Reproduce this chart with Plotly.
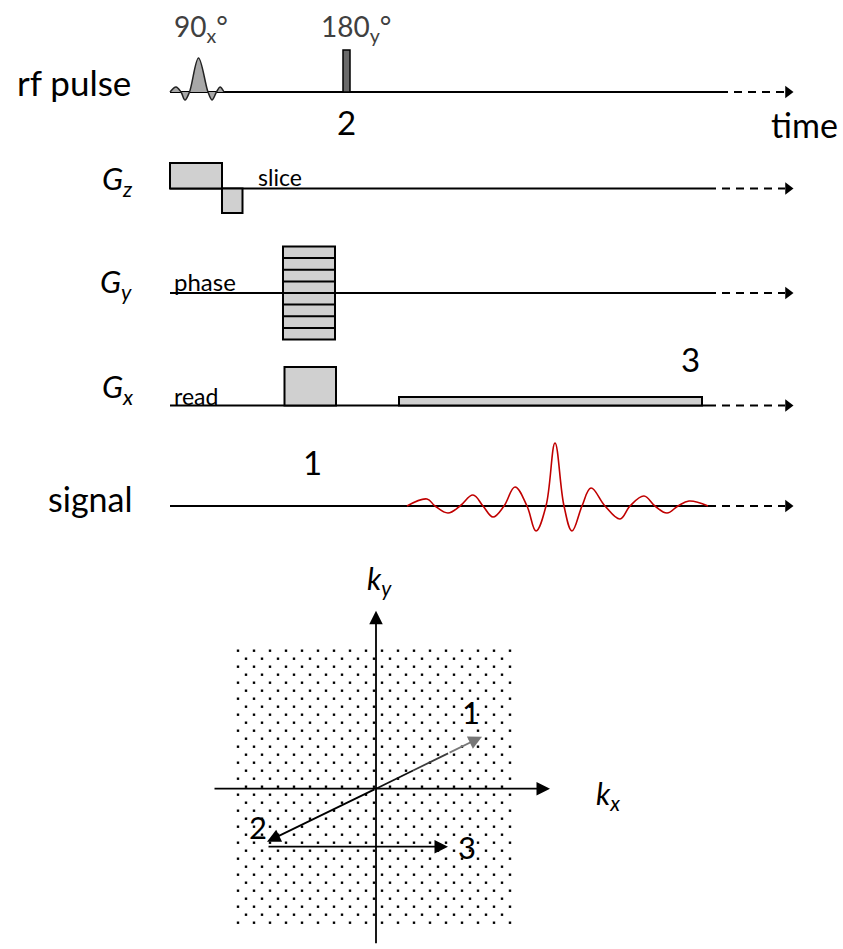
import plotly.graph_objects as go

W, H = 843, 949

# ---------------- pulse-sequence data (time axis units, amplitudes above baseline) ----------------
RF_T = [170, 176, 181, 185, 189.5, 198.5, 208, 212, 216.5, 220, 224]
RF_B1 = [0, 5, 0, -8, 0, 34, 0, -8, 0, 5, 0]
REFOCUS_T = [343, 350]
REFOCUS_AMP = 42

GZ_LOBES = [(170, 222, 25.5), (222, 242.5, -24.5)]          # (start, end, amplitude)
GY_T = [283, 335]
GY_STEPS = [46.5, 35, 23.3, 11.6, -11.6, -23.3, -35, -46.5]  # phase-encoding table
GX_LOBES = [(284.5, 336, 38.5), (399, 702, 8.5)]             # prephaser, readout

SIG_T = [407, 427, 435, 448, 460, 473, 483, 493, 504, 515, 527, 536, 546,
         555, 564, 572, 582, 591, 605, 620, 630, 644, 655, 667, 678, 689, 708]
SIG_AMP = [0, 7, 0, -7, 0, 11, 0, -11, 0, 19, 0, -25, 0,
           63, 0, -25, 0, 18, 0, -13, 0, 10, 0, -7, 0, 5, 0]

T_START, T_SOLID_END, T_RF_SOLID_END, T_ARROW = 170, 708, 720, 788

# ---------------- k-space data ----------------
K1 = (106, 52)
K2 = (-109, -53)
K3_START, K3_END = (-109, -58), (72, -58)
KX_AXIS = (-163, 174)
KY_AXIS = (-156, 178)
KY_ROWS = list(range(138, -135, -8))

# baselines of the five timing rows (distance from top, px)
ROWS = {"rf": 92, "gz": 188.5, "gy": 293, "gx": 405.5, "sig": 506}
YAX = {"rf": "y", "gz": "y2", "gy": "y3", "gx": "y4", "sig": "y5"}
K_ORIGIN = (376, 788.7)

GRAD_FILL = "#d0d0d0"
FONT = "Lato"

fig = go.Figure()
shapes = []
ann = []


def yref(row):
    return YAX[row]


def axis_name(row):
    r = YAX[row]
    return "yaxis" if r == "y" else "yaxis" + r[1:]


# timeline baselines with dashed continuation and arrowheads
for row in ROWS:
    solid_end = T_RF_SOLID_END if row == "rf" else T_SOLID_END
    shapes.append(dict(type="line", xref="x", yref=yref(row), x0=T_START, x1=solid_end,
                       y0=0, y1=0, line=dict(color="black", width=1.8), layer="below"))
    shapes.append(dict(type="line", xref="x", yref=yref(row), x0=solid_end, x1=T_ARROW - 3,
                       y0=0, y1=0, line=dict(color="black", width=1.8, dash="8px,6px")))
    fig.add_trace(go.Scatter(x=[T_ARROW], y=[0], yaxis=yref(row), mode="markers",
                             marker=dict(symbol="triangle-right", size=11, color="black"),
                             hoverinfo="skip", showlegend=False))

# 90° sinc excitation
fig.add_trace(go.Scatter(x=RF_T, y=RF_B1, yaxis="y", mode="lines", fill="tozeroy",
                         fillcolor="#a8a8a8", line=dict(color="#222", width=1.5, shape="spline"),
                         hoverinfo="skip", showlegend=False))
# 180° refocusing pulse
shapes.append(dict(type="rect", xref="x", yref="y", x0=REFOCUS_T[0], x1=REFOCUS_T[1],
                   y0=0, y1=REFOCUS_AMP, fillcolor="#6a6a6a", line=dict(color="black", width=1.5)))

# slice gradient
for t0, t1, a in GZ_LOBES:
    shapes.append(dict(type="rect", xref="x", yref="y2", x0=t0, x1=t1, y0=0, y1=a,
                       fillcolor=GRAD_FILL, line=dict(color="black", width=2)))
# phase table: largest steps first so every step edge stays visible
for a in sorted(GY_STEPS, key=abs, reverse=True):
    shapes.append(dict(type="rect", xref="x", yref="y3", x0=GY_T[0], x1=GY_T[1], y0=0, y1=a,
                       fillcolor=GRAD_FILL, line=dict(color="black", width=2)))
# read gradient
for t0, t1, a in GX_LOBES:
    shapes.append(dict(type="rect", xref="x", yref="y4", x0=t0, x1=t1, y0=0, y1=a,
                       fillcolor=GRAD_FILL, line=dict(color="black", width=2)))

# echo signal
fig.add_trace(go.Scatter(x=SIG_T, y=SIG_AMP, yaxis="y5", mode="lines",
                         line=dict(color="#c00000", width=1.6, shape="spline", smoothing=1.1),
                         hoverinfo="skip", showlegend=False))


def label(text, x, y, row="rf", size=32, color="black", style="normal"):
    ann.append(dict(text=text, x=x, y=y, xref="x", yref=yref(row),
                    showarrow=False, xanchor="center", yanchor="middle",
                    font=dict(family=FONT, size=size, color=color, style=style)))


# row labels and annotations (y given relative to each row baseline)
label("rf pulse", 74, 10, "rf", 35)
label("90<sub>x</sub>°", 201, 64, "rf", 28, "#404040")
label("180<sub>y</sub>°", 356, 64, "rf", 28, "#404040")
label("2", 346, -30, "rf", 33)
label("time", 804, -32, "rf", 34)
label("G<sub>z</sub>", 117, 8, "gz", 31, style="italic")
label("slice", 280, 12, "gz", 23)
label("G<sub>y</sub>", 116, 10, "gy", 31, style="italic")
label("phase", 205, 12, "gy", 24)
label("G<sub>x</sub>", 118, 17, "gx", 31, style="italic")
label("read", 196, 10, "gx", 23)
label("3", 690, 47, "gx", 33)
label("1", 312, 44, "sig", 33)
label("signal", 90, 8, "sig", 34)

# ---------------- k-space ----------------
dx, dy = [], []
for j, ky in enumerate(KY_ROWS):
    start = -138 if j % 2 == 0 else -130
    n = 18 if j % 2 == 0 else 17
    for i in range(n):
        dx.append(start + 16 * i)
        dy.append(ky)
fig.add_trace(go.Scatter(x=dx, y=dy, xaxis="x2", yaxis="y6", mode="markers",
                         marker=dict(symbol="square", size=2.4, color="black", line=dict(width=0)),
                         hoverinfo="skip", showlegend=False))


def karrow(x0, y0, x1, y1, color="black", width=1.8):
    ann.append(dict(x=x1, y=y1, ax=x0, ay=y0, xref="x2", yref="y6", axref="x2", ayref="y6",
                    showarrow=True, arrowhead=2, arrowsize=1.5, arrowwidth=width,
                    arrowcolor=color, standoff=0, startstandoff=0, text=""))


karrow(KX_AXIS[0], 0, KX_AXIS[1], 0)
karrow(0, KY_AXIS[0], 0, KY_AXIS[1])

# trajectory to point 1 fades from black to grey along its length
fade = [(0.0, 0.35, "#111111"), (0.35, 0.68, "#3c3c3c")]
for f0, f1, c in fade:
    shapes.append(dict(type="line", xref="x2", yref="y6", x0=K1[0] * f0, y0=K1[1] * f0,
                       x1=K1[0] * f1, y1=K1[1] * f1, line=dict(color=c, width=1.8)))
karrow(K1[0] * 0.68, K1[1] * 0.68, K1[0], K1[1], "#777777")
karrow(0, 0, K2[0], K2[1])
karrow(K3_START[0], K3_START[1], K3_END[0], K3_END[1])

for text, x, y, size, style in [("k<sub>y</sub>", 3, 209, 30, "italic"),
                                ("k<sub>x</sub>", 232, -6, 30, "italic"),
                                ("1", 95, 77, 31, "normal"), ("2", -118, -38, 31, "normal"),
                                ("3", 91, -58, 31, "normal")]:
    ann.append(dict(text=text, x=x, y=y, xref="x2", yref="y6", showarrow=False,
                    xanchor="center", yanchor="middle",
                    font=dict(family=FONT, size=size, color="black", style=style)))

# ---------------- axes: 1 unit = 1 px everywhere ----------------
hidden = dict(visible=False, showgrid=False, zeroline=False, fixedrange=True)
layout_axes = {"xaxis": dict(range=[0, W], domain=[0, 1], **hidden)}
for row, base in ROWS.items():
    cfg = dict(range=[-(H - base), base], domain=[0, 1], anchor="x", **hidden)
    if row != "rf":
        cfg["overlaying"] = "y"
    layout_axes[axis_name(row)] = cfg
layout_axes["xaxis2"] = dict(range=[-K_ORIGIN[0], W - K_ORIGIN[0]], domain=[0, 1],
                             anchor="y6", overlaying="x", **hidden)
layout_axes["yaxis6"] = dict(range=[-(H - K_ORIGIN[1]), K_ORIGIN[1]], domain=[0, 1],
                             anchor="x2", overlaying="y", **hidden)

fig.update_layout(width=W, height=H, margin=dict(l=0, r=0, t=0, b=0),
                  paper_bgcolor="white", plot_bgcolor="rgba(0,0,0,0)",
                  shapes=shapes, annotations=ann, showlegend=False, **layout_axes)

fig.write_html("out.html", config={"displayModeBar": False})
